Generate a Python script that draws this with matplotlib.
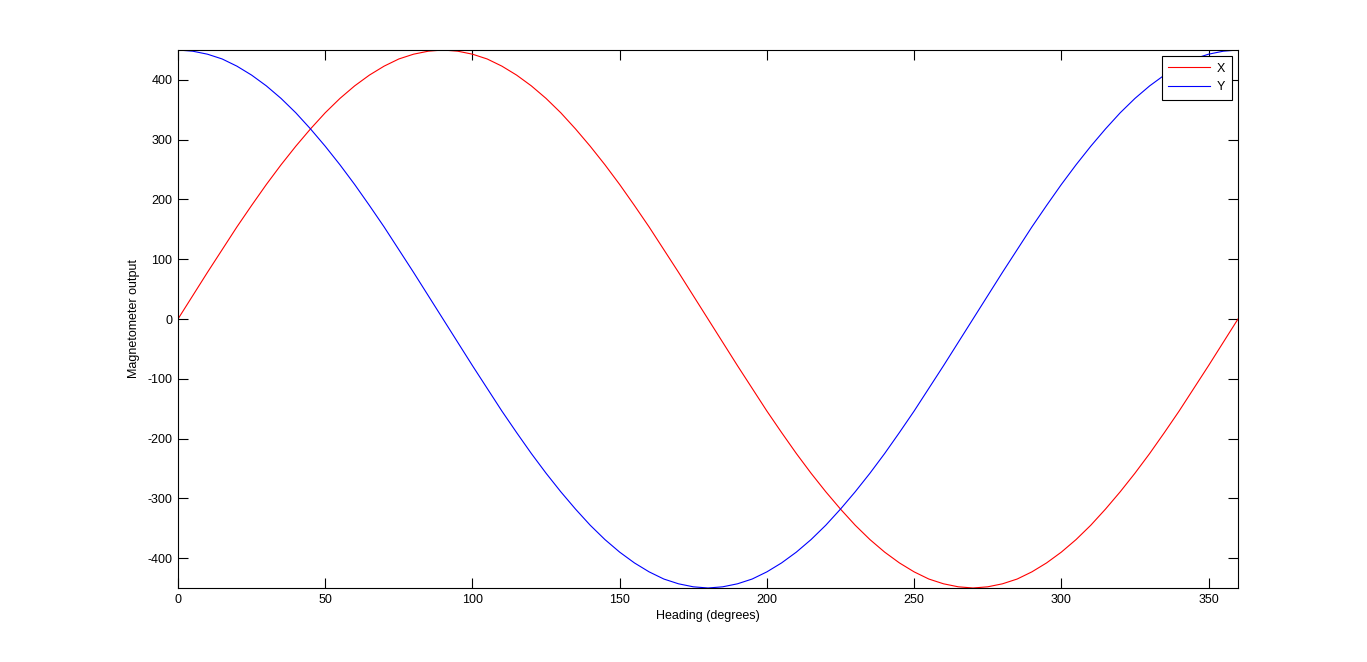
import matplotlib
matplotlib.use("Agg")
import matplotlib.pyplot as plt

# heading in degrees, 5 degree steps
heading = list(range(0, 361, 5))

# magnetometer readings
x_out = [0, 39, 78, 116, 154, 190, 225, 258, 289, 318, 345, 369, 390, 408, 423, 435, 443, 448,
         450, 448, 443, 435, 423, 408, 390, 369, 345, 318, 289, 258, 225, 190, 154, 116, 78, 39,
         0, -39, -78, -116, -154, -190, -225, -258, -289, -318, -345, -369, -390, -408, -423, -435, -443, -448,
         -450, -448, -443, -435, -423, -408, -390, -369, -345, -318, -289, -258, -225, -190, -154, -116, -78, -39,
         0]
y_out = [450, 448, 443, 435, 423, 408, 390, 369, 345, 318, 289, 258, 225, 190, 154, 116, 78, 39,
         0, -39, -78, -116, -154, -190, -225, -258, -289, -318, -345, -369, -390, -408, -423, -435, -443, -448,
         -450, -448, -443, -435, -423, -408, -390, -369, -345, -318, -289, -258, -225, -190, -154, -116, -78, -39,
         0, 39, 78, 116, 154, 190, 225, 258, 289, 318, 345, 369, 390, 408, 423, 435, 443, 448,
         450]

xticks = list(range(0, 351, 50))
yticks = list(range(-400, 401, 100))

plt.rcParams['font.family'] = ['Liberation Sans', 'DejaVu Sans']
plt.rcParams['font.size'] = 9
plt.rcParams['axes.unicode_minus'] = False

fig = plt.figure(figsize=(13.67, 6.62), dpi=100)
ax = fig.add_axes([178 / 1367, 74 / 662, 1060 / 1367, 538 / 662])

ax.plot(heading, x_out, color="red", linewidth=0.8, label="X")
ax.plot(heading, y_out, color="blue", linewidth=0.8, label="Y")

ax.set_xlim(0, 360)
ax.set_ylim(-450, 450)
ax.set_xticks(xticks)
ax.set_yticks(yticks)
ax.tick_params(direction="in", length=7, width=0.8, top=True, right=True, pad=4)
for s in ax.spines.values():
    s.set_linewidth(0.8)

ax.set_xlabel("Heading (degrees)", labelpad=3)
ax.set_ylabel("Magnetometer output", labelpad=5)

leg = ax.legend(loc="upper right", fancybox=False, edgecolor="black", framealpha=1,
                handlelength=3.3, borderaxespad=0.5, handletextpad=0.6,
                labelspacing=0.55, borderpad=0.5)
leg.get_frame().set_linewidth(0.8)

fig.savefig("out.png", dpi=100)
